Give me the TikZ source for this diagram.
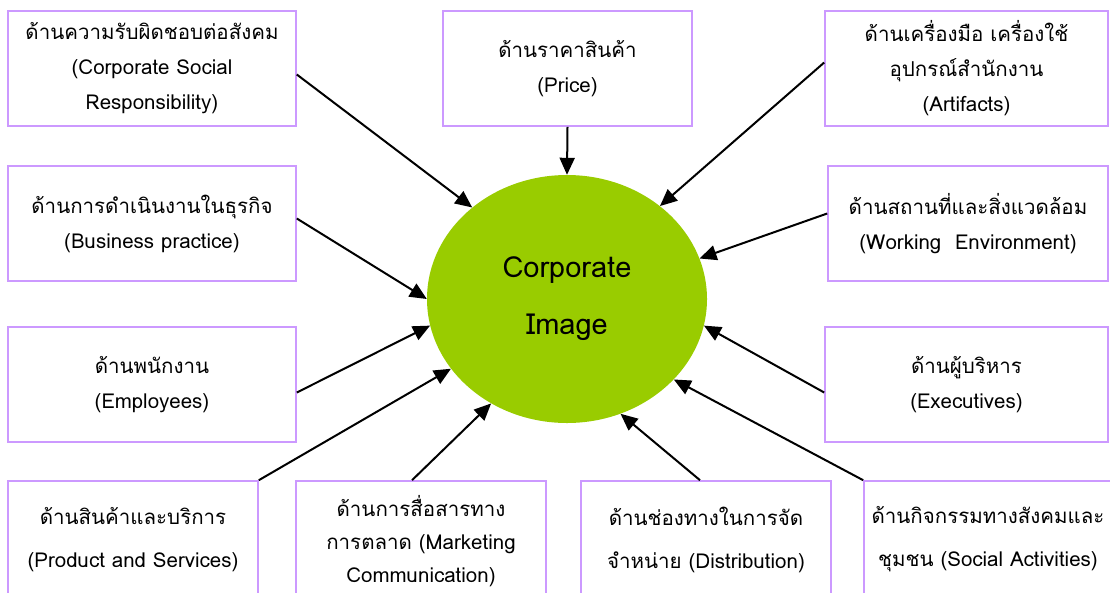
\documentclass[tikz,border=0pt]{standalone}
\usepackage{fontspec}
\setmainfont[Script=Thai]{Loma}
\usetikzlibrary{shapes.geometric,arrows.meta}
\definecolor{boxpurple}{RGB}{204,153,255}
\definecolor{imggreen}{RGB}{153,204,0}
\tikzstyle{factor} = [draw=boxpurple, line width=1.6pt, fill=white,
    rectangle, align=center, inner sep=0pt, font=\fontsize{20.5}{35}\selectfont]
\tikzstyle{core} = [ellipse, fill=imggreen, inner sep=0pt, align=center,
    minimum width=280pt, minimum height=248pt, font=\fontsize{29}{57}\selectfont]
\tikzstyle{push} = [line width=2pt, -{Triangle[length=17pt,width=15pt]}]

\begin{document}
\begin{tikzpicture}[x=1pt,y=-1pt]
    \useasboundingbox (0,0) rectangle (1110,592);
    \node [core] (image) at (567,299) {Corporate\\Image};
    % top row
    \node [factor, minimum width=288pt, minimum height=115pt] (csr) at (152,68.5)
        {ด้านความรับผิดชอบต่อสังคม\\(Corporate Social\\Responsibility)};
    \node [factor, minimum width=249pt, minimum height=115pt] (price) at (567.5,68.5)
        {ด้านราคาสินค้า\\(Price)};
    \node [factor, minimum width=283pt, minimum height=115pt] (artifacts) at (966.5,68.5)
        {ด้านเครื่องมือ เครื่องใช้\\อุปกรณ์สำนักงาน\\(Artifacts)};
    % middle rows
    \node [factor, minimum width=288pt, minimum height=115pt] (business) at (152,223.5)
        {ด้านการดำเนินงานในธุรกิจ\\(Business practice)};
    \node [factor, minimum width=280pt, minimum height=115pt] (environ) at (968,223.5)
        {ด้านสถานที่และสิ่งแวดล้อม\\(Working\ \ Environment)};
    \node [factor, minimum width=288pt, minimum height=115pt] (employees) at (152,384.5)
        {ด้านพนักงาน\\(Employees)};
    \node [factor, minimum width=283pt, minimum height=115pt] (executives) at (966.5,384.5)
        {ด้านผู้บริหาร\\(Executives)};
    % bottom row
    \node [factor, minimum width=250pt, minimum height=117pt] (product) at (133,539.5)
        {ด้านสินค้าและบริการ\\[8pt](Product and Services)};
    \node [factor, minimum width=250pt, minimum height=121pt,
        font=\fontsize{20.5}{33}\selectfont] (marketing) at (421,541.5)
        {ด้านการสื่อสารทาง\\การตลาด (Marketing\\Communication)};
    \node [factor, minimum width=250pt, minimum height=117pt] (distribution) at (706,539.5)
        {ด้านช่องทางในการจัด\\[8pt]จำหน่าย (Distribution)};
    \node [factor, minimum width=248pt, minimum height=117pt] (social) at (988,539.5)
        {ด้านกิจกรรมทางสังคมและ\\[8pt]ชุมชน (Social Activities)};
    % arrows
    \draw [push] ([yshift=-6pt]csr.east) -- (image.136);
    \draw [push] (price.south) -- (image.north);
    \draw [push] ([yshift=6pt]artifacts.west) -- (image.45);
    \draw [push] ([yshift=5pt]business.east) -- (image.west);
    \draw [push] ([yshift=10pt]environ.west) -- (image.17);
    \draw [push] ([yshift=-8pt]employees.east) -- (image.191);
    \draw [push] ([yshift=-8pt]executives.west) -- (image.349);
    \draw [push] (product.north east) -- (image.211);
    \draw [push] ([xshift=-9pt]marketing.north) -- (image.234);
    \draw [push] ([xshift=-6pt]distribution.north) -- (image.295);
    \draw [push] (social.north west) -- (image.323);
\end{tikzpicture}
\end{document}
